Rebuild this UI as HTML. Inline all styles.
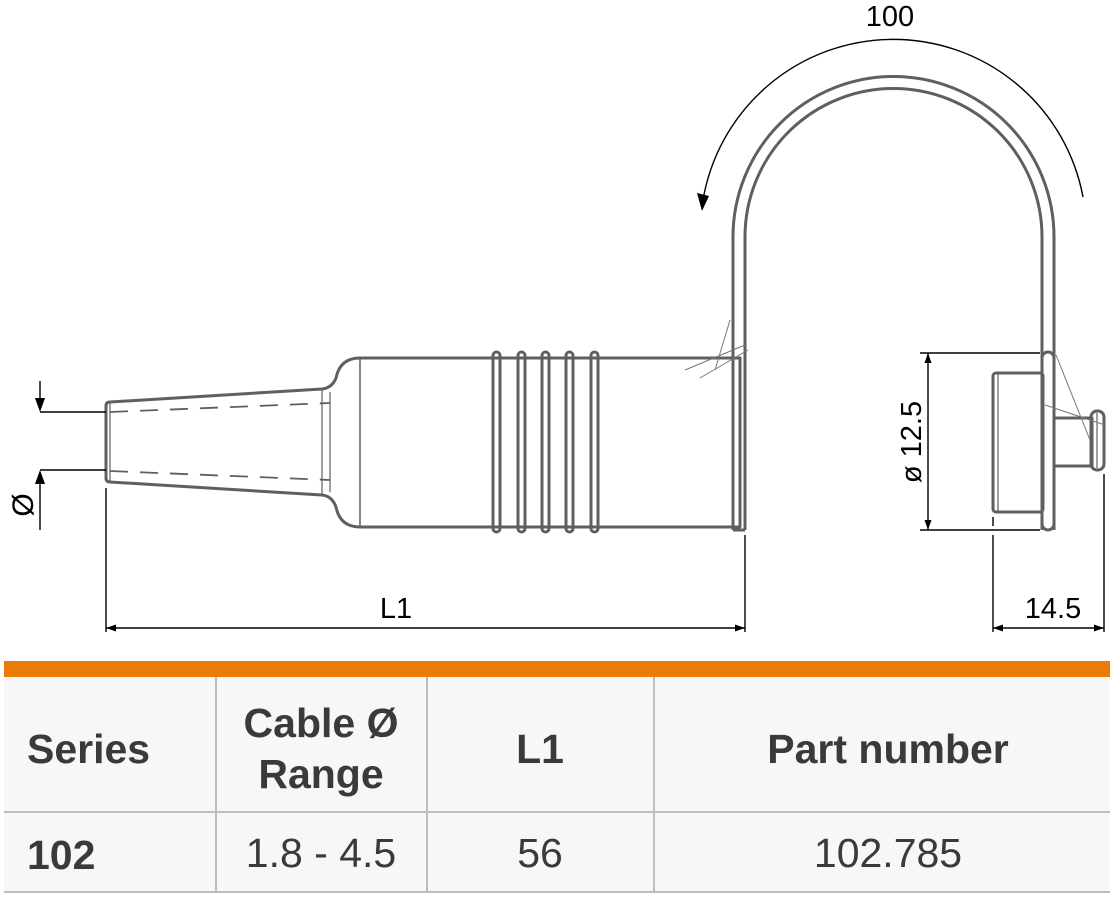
<!DOCTYPE html>
<html><head><meta charset="utf-8"><style>
body{margin:0;width:1110px;height:900px;background:#fff;overflow:hidden;font-family:"Liberation Sans",sans-serif}
svg{position:absolute;left:0;top:0}
</style></head><body>
<svg width="1110" height="900" viewBox="0 0 1110 900">
<defs><marker id="a" viewBox="0 0 10 10" refX="10" refY="5" markerWidth="16" markerHeight="10" orient="auto-start-reverse" markerUnits="userSpaceOnUse"><path d="M0,1.5 L10,5 L0,8.5Z" fill="#000"/></marker></defs>
<g fill="none" stroke="#5f5f5f" stroke-width="3" stroke-linejoin="round">
<path d="M110,402 L322,389 Q332,388 336,378 Q340,358 360,358 L740,358 L740,527 L360,527 Q340,527 336,507 Q332,496 322,495 L110,482 Q106,482 106,478 L106,406 Q106,402 110,402Z"/>
<line x1="322" y1="389" x2="322" y2="495" stroke-width="1.2"/>
<line x1="330" y1="392" x2="330" y2="492" stroke-width="1.2"/>
<line x1="110" y1="402" x2="110" y2="482" stroke-width="1.2"/>
<line x1="360" y1="358" x2="360" y2="527" stroke-width="1.5"/>
<path d="M110,412 L330,403 M110,471 L330,480" stroke-width="1.8" stroke-dasharray="18,12"/>
<rect x="493" y="352" width="7" height="180" rx="3.5"/>
<rect x="518" y="352" width="7" height="180" rx="3.5"/>
<rect x="542" y="352" width="7" height="180" rx="3.5"/>
<rect x="566" y="352" width="7" height="180" rx="3.5"/>
<rect x="591" y="352" width="7" height="180" rx="3.5"/>
<path d="M733,530 L733,237 A160.5,160.5 0 0 1 1054,237 L1054,530"/>
<path d="M745,530 L745,237 A148.5,148.5 0 0 1 1042,237 L1042,530"/>
<line x1="733" y1="530" x2="745" y2="530"/>
<rect x="993" y="373" width="50" height="139" rx="3"/>
<line x1="998" y1="373" x2="998" y2="512" stroke-width="1.2"/>
<rect x="1042" y="352" width="12" height="178" rx="6"/>
<rect x="1054" y="418" width="38" height="48"/>
<rect x="1091" y="411" width="13" height="59" rx="6"/>
<line x1="1097" y1="413" x2="1097" y2="468" stroke-width="1.2"/>
</g>
<g stroke="#777" stroke-width="1" fill="none">
<path d="M730,320 L715,370 M700,378 L748,350 M685,370 L745,345 M1056,355 L1090,440 M1045,405 L1105,425"/>
</g>
<g stroke="#000" stroke-width="1.4" fill="none">
<line x1="40" y1="412" x2="106" y2="412"/>
<line x1="40" y1="470" x2="106" y2="470"/>
<line x1="40" y1="381" x2="40" y2="400"/>
<line x1="40" y1="530" x2="40" y2="482"/>
<line x1="106" y1="488" x2="106" y2="632"/>
<line x1="745" y1="535" x2="745" y2="632"/>
<line x1="106" y1="628" x2="745" y2="628" marker-start="url(#a)" marker-end="url(#a)"/>
<line x1="920" y1="353" x2="1040" y2="353"/>
<line x1="920" y1="530" x2="1040" y2="530"/>
<line x1="928" y1="353" x2="928" y2="530" marker-start="url(#a)" marker-end="url(#a)"/>
<line x1="993" y1="517" x2="993" y2="526"/>
<line x1="993" y1="535" x2="993" y2="632"/>
<line x1="1104" y1="474" x2="1104" y2="632"/>
<line x1="993" y1="628" x2="1104" y2="628" marker-start="url(#a)" marker-end="url(#a)"/>
<path d="M1083,197 A193,193 0 0 0 703,200"/>
</g>
<g fill="#000">
<polygon points="35,398 45,398 40,412"/>
<polygon points="35,484 45,484 40,470"/>
<polygon points="697,193 709,196 702,211"/>
</g>
<g font-size="29" fill="#000" font-family="Liberation Sans, sans-serif">
<text x="890" y="26" text-anchor="middle">100</text>
<text x="396" y="618" text-anchor="middle">L1</text>
<text x="1053" y="618" text-anchor="middle">14.5</text>
<text transform="translate(921,442) rotate(-90)" text-anchor="middle">ø 12.5</text>
<text transform="translate(33,505) rotate(-90)" text-anchor="middle" font-size="30">Ø</text>
</g>
<rect x="4" y="661" width="1106" height="16" fill="#ec7a08"/>
<rect x="4" y="677" width="1106" height="215" fill="#f7f7f7"/>
<g stroke="#bdbdbd" stroke-width="2">
<line x1="4" y1="812" x2="1110" y2="812"/>
<line x1="4" y1="892" x2="1110" y2="892"/>
<line x1="216" y1="677" x2="216" y2="892"/>
<line x1="427" y1="677" x2="427" y2="892"/>
<line x1="654" y1="677" x2="654" y2="892"/>
</g>
<g font-size="41" fill="#3a3a3a" font-weight="bold" font-family="Liberation Sans, sans-serif">
<text x="27" y="763">Series</text>
<text x="321" y="737" text-anchor="middle">Cable Ø</text>
<text x="321" y="788" text-anchor="middle">Range</text>
<text x="540" y="763" text-anchor="middle">L1</text>
<text x="888" y="763" text-anchor="middle">Part number</text>
<text x="27" y="869">102</text>
</g>
<g font-size="41" fill="#3a3a3a" font-family="Liberation Sans, sans-serif">
<text x="321" y="867" text-anchor="middle">1.8 - 4.5</text>
<text x="540" y="867" text-anchor="middle">56</text>
<text x="888" y="867" text-anchor="middle">102.785</text>
</g>
</svg>
</body></html>
